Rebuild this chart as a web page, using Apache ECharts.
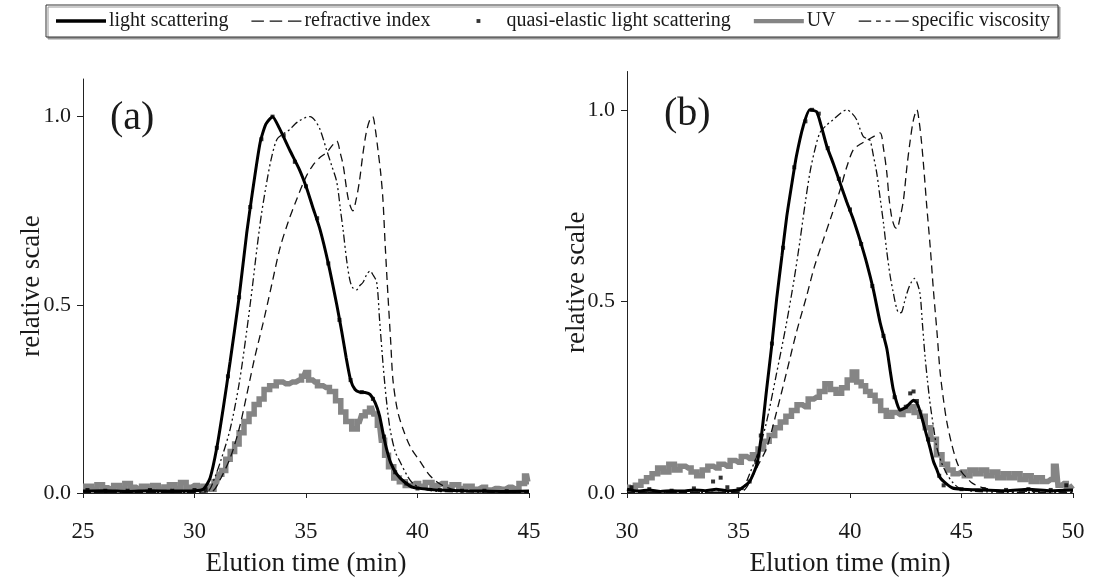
<!DOCTYPE html>
<html>
<head>
<meta charset="utf-8">
<script src="https://cdn.jsdelivr.net/npm/echarts@6/dist/echarts.min.js"></script>
<style>
html,body{margin:0;padding:0;background:#fff;}
#chart{width:1093px;height:582px;}
</style>
</head>
<body>
<div id="chart"></div>
<script>
// ---------- DATA: panel (a) ----------
const lsA = [[25,0.005],[26,0.006],[27,0.004],[28,0.006],[29,0.005],[30,0.006],[30.4,0.01],[30.7,0.04],[31.0,0.12],[31.3,0.23],[31.6,0.35],[32.0,0.52],[32.34,0.69],[32.6,0.8],[32.94,0.93],[33.2,0.98],[33.5,1.0],[33.8,0.97],[34.28,0.91],[34.7,0.86],[35.03,0.81],[35.3,0.76],[35.63,0.70],[36.0,0.61],[36.38,0.50],[36.6,0.43],[36.8,0.36],[37.0,0.30],[37.2,0.275],[37.4,0.268],[37.65,0.267],[37.87,0.262],[38.1,0.24],[38.3,0.205],[38.45,0.16],[38.6,0.12],[38.8,0.08],[39.07,0.05],[39.4,0.03],[39.8,0.015],[40.5,0.01],[41,0.008],[42,0.006],[43,0.005],[44,0.004],[45,0.005]];
const riA = [[25,0.002],[30,0.002],[30.8,0.005],[31.1,0.03],[31.6,0.093],[32.0,0.17],[32.34,0.26],[32.7,0.36],[33.07,0.45],[33.45,0.55],[33.83,0.65],[34.2,0.72],[34.58,0.78],[35.0,0.84],[35.3,0.87],[35.6,0.89],[35.93,0.905],[36.2,0.925],[36.38,0.935],[36.55,0.9],[36.67,0.87],[36.9,0.78],[37.1,0.75],[37.25,0.78],[37.4,0.83],[37.55,0.9],[37.7,0.957],[37.85,0.99],[37.99,1.0],[38.1,0.97],[38.23,0.91],[38.35,0.85],[38.45,0.78],[38.55,0.66],[38.68,0.52],[38.8,0.4],[38.9,0.30],[39.1,0.22],[39.35,0.17],[39.7,0.12],[40.1,0.085],[40.5,0.05],[40.86,0.03],[41.3,0.015],[41.75,0.008],[43,0.003],[45,0.002]];
const svA = [[25,0.002],[30,0.002],[30.6,0.005],[30.9,0.04],[31.2,0.09],[31.6,0.17],[32.0,0.29],[32.34,0.43],[32.6,0.55],[32.8,0.65],[33.0,0.74],[33.24,0.826],[33.45,0.89],[33.7,0.94],[34.0,0.955],[34.28,0.966],[34.5,0.98],[34.73,0.99],[35.0,0.998],[35.18,1.0],[35.4,0.99],[35.63,0.966],[35.93,0.91],[36.15,0.87],[36.38,0.826],[36.55,0.75],[36.67,0.696],[36.82,0.62],[36.97,0.565],[37.1,0.545],[37.27,0.54],[37.4,0.55],[37.56,0.56],[37.72,0.58],[37.87,0.59],[38.0,0.58],[38.17,0.56],[38.3,0.46],[38.45,0.346],[38.6,0.25],[38.77,0.17],[39.0,0.11],[39.2,0.085],[39.5,0.05],[39.8,0.025],[40.3,0.01],[41,0.004],[45,0.002]];
const uvA = [[25,0.012],[25.25,0.018],[25.5,0.01],[25.75,0.022],[26,0.014],[26.25,0.01],[26.5,0.02],[26.75,0.012],[27,0.025],[27.25,0.015],[27.5,0.01],[27.75,0.018],[28,0.012],[28.25,0.02],[28.5,0.01],[28.75,0.016],[29,0.022],[29.25,0.012],[29.5,0.028],[29.75,0.015],[30,0.02],[30.25,0.012],[30.5,0.018],[30.75,0.01],[31.0,0.03],[31.15,0.05],[31.3,0.06],[31.5,0.09],[31.7,0.11],[31.9,0.13],[32.1,0.16],[32.34,0.19],[32.55,0.21],[32.8,0.235],[33.0,0.25],[33.24,0.275],[33.5,0.285],[33.83,0.295],[34.1,0.29],[34.4,0.295],[34.7,0.3],[34.9,0.31],[35.03,0.32],[35.2,0.3],[35.4,0.295],[35.63,0.285],[35.9,0.28],[36.2,0.27],[36.45,0.245],[36.67,0.215],[36.9,0.19],[37.2,0.17],[37.4,0.19],[37.56,0.205],[37.75,0.215],[37.95,0.225],[38.1,0.21],[38.3,0.18],[38.45,0.14],[38.6,0.10],[38.8,0.07],[39.07,0.04],[39.3,0.03],[39.6,0.02],[39.9,0.025],[40.2,0.018],[40.5,0.028],[40.8,0.02],[41.1,0.025],[41.4,0.015],[41.7,0.022],[42.0,0.012],[42.3,0.018],[42.6,0.01],[42.9,0.015],[43.2,0.008],[43.5,0.012],[43.8,0.01],[44.1,0.015],[44.4,0.01],[44.7,0.025],[44.9,0.045],[45,0.03]];
const qelsA = [[25.2,0.008],[26,0.006],[27,0.006],[28,0.008],[29,0.006],[30,0.008],[30.5,0.01],[31,0.12],[31.5,0.31],[32,0.52],[32.5,0.76],[33,0.94],[33.5,1.0],[34,0.95],[34.5,0.88],[35,0.815],[35.5,0.73],[36,0.61],[36.5,0.46],[37,0.3],[37.5,0.268],[38,0.25],[38.5,0.15],[39,0.055],[39.5,0.025],[40,0.012],[41,0.008],[42,0.006],[43,0.006],[44,0.005]];

// ---------- DATA: panel (b) ----------
const lsB = [[30,0.01],[30.5,0.005],[31,0.008],[31.5,0.004],[32,0.006],[32.5,0.005],[33,0.008],[33.5,0.006],[34,0.01],[34.5,0.006],[35,0.008],[35.2,0.015],[35.5,0.03],[35.82,0.074],[36.05,0.16],[36.26,0.27],[36.5,0.39],[36.71,0.506],[36.95,0.62],[37.16,0.72],[37.4,0.81],[37.6,0.88],[37.9,0.957],[38.2,1.0],[38.5,0.995],[38.7,0.96],[38.96,0.905],[39.25,0.86],[39.55,0.81],[39.85,0.76],[40.15,0.714],[40.45,0.66],[40.75,0.60],[41.05,0.53],[41.35,0.445],[41.65,0.377],[41.8,0.32],[41.94,0.27],[42.1,0.235],[42.24,0.216],[42.4,0.22],[42.54,0.225],[42.7,0.235],[42.84,0.242],[43.0,0.235],[43.14,0.213],[43.3,0.18],[43.44,0.15],[43.6,0.115],[43.74,0.083],[43.9,0.06],[44.04,0.04],[44.3,0.025],[44.6,0.013],[45,0.01],[46,0.008],[47,0.006],[48,0.01],[49,0.006],[50,0.008]];
const riB = [[30,0.002],[35,0.002],[35.3,0.01],[35.6,0.04],[35.9,0.075],[36.26,0.117],[36.7,0.21],[37.16,0.316],[37.6,0.42],[38.06,0.515],[38.4,0.59],[38.8,0.66],[39.15,0.72],[39.55,0.79],[39.85,0.85],[40.15,0.896],[40.45,0.91],[40.75,0.92],[41.05,0.93],[41.35,0.94],[41.5,0.9],[41.65,0.836],[41.75,0.77],[41.87,0.72],[42.0,0.695],[42.1,0.69],[42.25,0.72],[42.4,0.766],[42.55,0.85],[42.7,0.92],[42.85,0.975],[43.0,1.0],[43.1,0.97],[43.2,0.92],[43.32,0.84],[43.44,0.75],[43.6,0.64],[43.74,0.53],[43.9,0.42],[44.04,0.316],[44.2,0.24],[44.34,0.186],[44.55,0.13],[44.78,0.083],[45.0,0.055],[45.23,0.04],[45.5,0.025],[45.9,0.015],[46.5,0.008],[48,0.004],[50,0.003]];
const svB = [[30,0.002],[35,0.002],[35.2,0.01],[35.5,0.05],[35.9,0.11],[36.26,0.186],[36.7,0.31],[37.16,0.446],[37.5,0.56],[37.76,0.66],[38.0,0.76],[38.2,0.835],[38.4,0.89],[38.65,0.94],[38.95,0.96],[39.24,0.974],[39.55,0.99],[39.85,1.0],[40.1,0.99],[40.3,0.974],[40.45,0.95],[40.6,0.93],[40.75,0.925],[40.9,0.92],[41.05,0.88],[41.2,0.835],[41.35,0.77],[41.5,0.705],[41.65,0.63],[41.8,0.567],[41.95,0.52],[42.1,0.48],[42.2,0.47],[42.32,0.472],[42.45,0.5],[42.6,0.53],[42.75,0.55],[42.9,0.56],[43.0,0.55],[43.14,0.52],[43.25,0.44],[43.36,0.36],[43.48,0.29],[43.6,0.23],[43.75,0.17],[43.9,0.117],[44.1,0.08],[44.34,0.05],[44.6,0.028],[44.9,0.013],[45.5,0.005],[47,0.002],[50,0.002]];
const uvB = [[30,0.015],[30.25,0.01],[30.5,0.02],[30.75,0.03],[31,0.04],[31.25,0.05],[31.5,0.065],[31.75,0.055],[32,0.075],[32.25,0.06],[32.5,0.07],[32.75,0.065],[33,0.055],[33.25,0.045],[33.5,0.06],[33.75,0.07],[34,0.065],[34.25,0.075],[34.5,0.07],[34.75,0.085],[35,0.08],[35.25,0.095],[35.5,0.09],[35.75,0.1],[36,0.115],[36.25,0.135],[36.5,0.15],[36.75,0.17],[37,0.185],[37.25,0.2],[37.5,0.215],[37.75,0.23],[38,0.225],[38.25,0.245],[38.5,0.25],[38.75,0.265],[39,0.285],[39.25,0.27],[39.5,0.26],[39.75,0.275],[40,0.295],[40.2,0.316],[40.4,0.29],[40.6,0.28],[40.8,0.265],[41,0.255],[41.25,0.24],[41.5,0.215],[41.75,0.2],[42,0.21],[42.25,0.205],[42.5,0.215],[42.75,0.225],[43,0.21],[43.25,0.2],[43.5,0.17],[43.75,0.14],[44,0.1],[44.25,0.075],[44.5,0.06],[44.75,0.05],[45,0.055],[45.25,0.045],[45.5,0.06],[45.75,0.05],[46,0.06],[46.25,0.045],[46.5,0.055],[46.75,0.04],[47,0.05],[47.25,0.04],[47.5,0.05],[47.75,0.035],[48,0.045],[48.25,0.03],[48.5,0.04],[48.75,0.03],[49,0.035],[49.25,0.07],[49.4,0.02],[49.6,0.025],[49.8,0.015],[50,0.02]];
const qelsB = [[30.2,0.015],[31,0.01],[32,0.006],[33,0.012],[33.86,0.03],[34.2,0.04],[34.5,0.015],[35,0.01],[35.5,0.03],[35.8,0.08],[36,0.15],[36.5,0.39],[37,0.64],[37.5,0.85],[38,0.97],[38.3,1.0],[38.6,0.99],[39,0.9],[39.5,0.82],[40,0.74],[40.5,0.65],[41,0.54],[41.5,0.41],[42,0.25],[42.5,0.225],[42.7,0.26],[42.85,0.265],[43,0.24],[43.5,0.14],[44,0.045],[44.2,0.02],[45,0.01],[46,0.01],[47,0.008],[48,0.01],[49,0.008],[49.7,0.02]];

// ---------- axes / labels ----------
const xRangeA = [25, 45];
const xRangeB = [30, 50];
const yTicks = [0, 0.5, 1.0];
const panelLabels = ['(a)', '(b)'];
const names = ['light scattering', 'refractive index', 'quasi-elastic light scattering', 'UV', 'specific viscosity'];
const xName = 'Elution time (min)';
const yName = 'relative scale';

const FONT = "'Liberation Serif', 'Times New Roman', serif";
const TXT = '#1a1a1a';

function xAxis(gi, range) {
  return {
    type: 'value', gridIndex: gi, min: range[0], max: range[1], interval: 5,
    name: xName, nameLocation: 'middle', nameGap: 57, nameMoveOverlap: false,
    nameTextStyle: { fontFamily: FONT, fontSize: 27, color: TXT },
    axisLine: { lineStyle: { color: '#222', width: 1 } },
    axisTick: { inside: false, length: 5, lineStyle: { color: '#222' } },
    axisLabel: { fontFamily: FONT, fontSize: 23, color: TXT, margin: 27 },
    splitLine: { show: false }
  };
}
function yAxis(gi, gap) {
  return {
    type: 'value', gridIndex: gi, min: 0, max: 1.1,
    name: yName, nameLocation: 'middle', nameGap: gap, nameRotate: 90, nameMoveOverlap: false,
    nameTextStyle: { fontFamily: FONT, fontSize: 27, color: TXT },
    axisLine: { show: true, lineStyle: { color: '#222', width: 1 } },
    axisTick: { show: true, inside: false, length: 6, customValues: yTicks, lineStyle: { color: '#222' } },
    axisLabel: { fontFamily: FONT, fontSize: 22, color: TXT, margin: 12, customValues: yTicks,
      formatter: v => v.toFixed(1) },
    splitLine: { show: false }
  };
}

const DASH = [8, 5];
const DASHDOT = [8, 3, 2, 3, 2, 3];
const UVGRAY = '#858585';

function seriesFor(gi, uv, ls, ri, sv, qe) {
  return [
    { name: names[3], type: 'line', xAxisIndex: gi, yAxisIndex: gi, data: uv, step: 'middle',
      showSymbol: false, symbol: 'none', lineStyle: { color: UVGRAY, width: 5.5, join: 'miter', cap: 'butt' }, itemStyle: { color: UVGRAY }, z: 2 },
    { name: names[1], type: 'line', xAxisIndex: gi, yAxisIndex: gi, data: ri, showSymbol: false, symbol: 'none', smooth: 0.3,
      lineStyle: { color: '#111', width: 1.3, type: DASH }, itemStyle: { color: '#111' }, z: 3 },
    { name: names[4], type: 'line', xAxisIndex: gi, yAxisIndex: gi, data: sv, showSymbol: false, symbol: 'none', smooth: 0.3,
      lineStyle: { color: '#111', width: 1.3, type: DASHDOT }, itemStyle: { color: '#111' }, z: 3 },
    { name: names[0], type: 'line', xAxisIndex: gi, yAxisIndex: gi, data: ls, showSymbol: false, symbol: 'none', smooth: 0.2,
      lineStyle: { color: '#000', width: 3 }, itemStyle: { color: '#000' }, z: 4 },
    { name: names[2], type: 'scatter', xAxisIndex: gi, yAxisIndex: gi, data: qe, symbol: 'rect', symbolSize: 4,
      itemStyle: { color: '#000' }, z: 5 }
  ];
}

// legend icon shapes (52 x 14 frame)
const ICON_LS = 'path://M0,0M0,5.3h52v3.6h-52zM52,14';
const ICON_RI = 'path://M0,0M0,6.4h13v1.4h-13zM19,6.4h13v1.4h-13zM38,6.4h14v1.4h-14zM52,14';
const ICON_QE = 'path://M0,0M24,5h4v4h-4zM52,14';
const ICON_UV = 'path://M0,0M0,4.8h52v4.6h-52zM52,14';
const ICON_SV = 'path://M0,0M0,6.4h13v1.4h-13zM18,6.4h5v1.4h-5zM28,6.4h5v1.4h-5zM38,6.4h14v1.4h-14zM52,14';

const chart = echarts.init(document.getElementById('chart'), null, { renderer: 'canvas' });
chart.setOption({
  animation: false,
  backgroundColor: '#fff',
  textStyle: { fontFamily: FONT },
  title: [
    { text: panelLabels[0], left: 105, top: 93, textStyle: { fontFamily: FONT, fontSize: 40, fontWeight: 'normal', color: TXT } },
    { text: panelLabels[1], left: 659, top: 89, textStyle: { fontFamily: FONT, fontSize: 40, fontWeight: 'normal', color: TXT } }
  ],
  legend: {
    left: 46, top: 5,
    padding: [6, 8, 6, 10],
    itemWidth: 50, itemHeight: 14, itemGap: 23,
    borderColor: '#333', borderWidth: 1,
    backgroundColor: '#fff',
    shadowColor: '#999', shadowOffsetX: 2, shadowOffsetY: 2, shadowBlur: 0,
    textStyle: { fontFamily: FONT, fontSize: 20, color: TXT, padding: [0, 0, 0, -2] },
    data: [
      { name: names[0], icon: ICON_LS, itemStyle: { color: '#000', borderWidth: 0 } },
      { name: names[1], icon: ICON_RI, itemStyle: { color: '#111', borderWidth: 0 } },
      { name: names[2], icon: ICON_QE, itemStyle: { color: '#000', borderWidth: 0 } },
      { name: names[3], icon: ICON_UV, itemStyle: { color: UVGRAY, borderWidth: 0 } },
      { name: names[4], icon: ICON_SV, itemStyle: { color: '#111', borderWidth: 0 } }
    ]
  },
  grid: [
    { left: 83, width: 446, top: 79, height: 420 },
    { left: 627, width: 446, top: 71.5, height: 423.5 }
  ],
  xAxis: [xAxis(0, xRangeA), xAxis(1, xRangeB)],
  yAxis: [yAxis(0, 38), yAxis(1, 37)],
  series: [
    ...seriesFor(0, uvA, lsA, riA, svA, qelsA),
    ...seriesFor(1, uvB, lsB, riB, svB, qelsB)
  ]
});
</script>
</body>
</html>
